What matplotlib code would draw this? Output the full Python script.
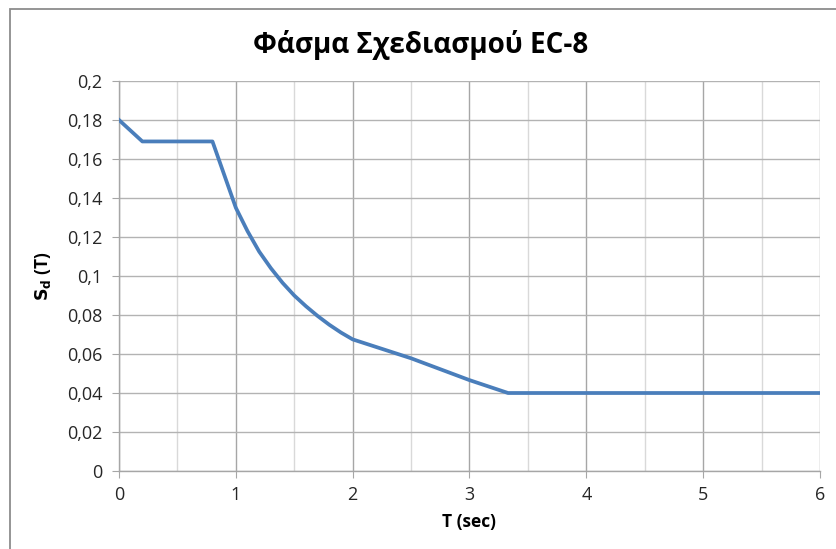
import matplotlib
matplotlib.use("Agg")
import matplotlib.pyplot as plt
from matplotlib.ticker import MultipleLocator, FuncFormatter
from matplotlib.patches import Rectangle

# Design spectrum values
period = [0.0, 0.2, 0.8, 1.0, 1.1, 1.2, 1.3, 1.4, 1.5, 1.6, 1.7, 1.8, 1.9, 2.0,
          2.5, 3.0, 3.33, 4.0, 5.0, 6.0]
sd = [0.180, 0.169, 0.169, 0.135, 0.123, 0.1125, 0.104, 0.0965, 0.090, 0.0845,
      0.0795, 0.075, 0.071, 0.0675, 0.0578, 0.0466, 0.040, 0.040, 0.040, 0.040]

title = "Φάσμα Σχεδιασμού EC-8"
xlabel = "T (sec)"
ylabel = r"$\mathbf{S_d}$ (T)"

plt.rcParams["font.family"] = ["Open Sans", "DejaVu Sans"]

fig = plt.figure(figsize=(8.37, 5.49), dpi=100)
ax = fig.add_axes([119 / 837, 1 - 471 / 549, (820 - 119) / 837, (471 - 81) / 549])

ax.plot(period, sd, color="#4A7EBB", lw=2.7, solid_joinstyle="round", zorder=3)

ax.set_xlim(0, 6)
ax.set_ylim(0, 0.2)
ax.xaxis.set_major_locator(MultipleLocator(1))
ax.xaxis.set_minor_locator(MultipleLocator(0.5))
ax.yaxis.set_major_locator(MultipleLocator(0.02))

def comma_fmt(v, pos):
    s = f"{v:.2f}".rstrip("0").rstrip(".")
    return s.replace(".", ",")

ax.yaxis.set_major_formatter(FuncFormatter(comma_fmt))
ax.xaxis.set_major_formatter(FuncFormatter(lambda v, p: f"{int(round(v))}"))

ax.grid(which="major", axis="x", color="#a6a6a6", lw=1.0)
ax.grid(which="minor", axis="x", color="#d9d9d9", lw=1.0)
ax.grid(which="major", axis="y", color="#b3b3b3", lw=1.0)
ax.set_axisbelow(True)

for s in ["top", "right"]:
    ax.spines[s].set_visible(False)
for s in ["left", "bottom"]:
    ax.spines[s].set_color("#a6a6a6")
    ax.spines[s].set_linewidth(1.0)

ax.tick_params(axis="both", which="major", direction="out", length=5, color="#a6a6a6",
               labelsize=13, labelcolor="#262626")
ax.tick_params(axis="x", which="major", pad=6)
ax.tick_params(axis="x", which="minor", length=0)
ax.tick_params(axis="y", pad=7)

ax.set_xlabel(xlabel, fontsize=12.5, fontweight="bold", labelpad=6)
ax.set_ylabel(ylabel, fontsize=12.5, fontweight="bold", labelpad=10)

fig.text(421 / 837, 1 - 45 / 549, title, ha="center", va="center",
         fontsize=20, fontweight="bold")

fig.patches.append(Rectangle((9.5 / 837, -0.1), 1.2, 1 - 9.5 / 549 + 0.1,
                             transform=fig.transFigure, fill=False,
                             edgecolor="#8c8c8c", lw=1.3))

fig.savefig("out.png", dpi=100)
